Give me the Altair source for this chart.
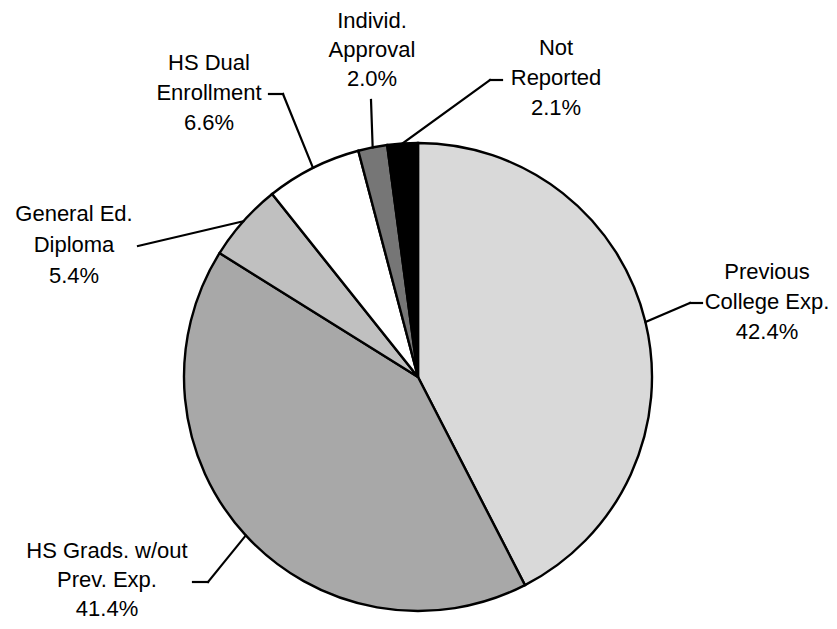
import math
import altair as alt
import pandas as pd

# ---- data ----
categories = [
    "Previous College Exp.",
    "HS Grads. w/out Prev. Exp.",
    "General Ed. Diploma",
    "HS Dual Enrollment",
    "Individ. Approval",
    "Not Reported",
]
values = [42.4, 41.4, 5.4, 6.6, 2.0, 2.1]
label_names = [
    ["Previous", "College Exp."],
    ["HS Grads. w/out", "Prev. Exp."],
    ["General Ed.", "Diploma"],
    ["HS Dual", "Enrollment"],
    ["Individ.", "Approval"],
    ["Not", "Reported"],
]

# ---- styles / layout (page pixels) ----
fill_colors = ["#d9d9d9", "#a8a8a8", "#c0c0c0", "#ffffff", "#767676", "#000000"]
OFF = 8
CX, CY, R = 418 - OFF, 377 - OFF, 234
label_first_line = [(767, 272), (107, 551), (74, 214), (209, 63), (372, 21), (556, 48)]
label_gap = [30, 29, 31, 30, 29, 30]
leader_elbows = [(690, 303), (208, 582), None, (283, 94), None, (490, 80)]
leader_ends = [(702, 303), (193, 582), (138, 246), (269, 94), (371, 100), (502, 80)]

pie_df = pd.DataFrame({"category": categories, "value": values, "order": list(range(len(values)))})

total = sum(values)
text_rows, seg_rows = [], []
cum = 0.0
for i, v in enumerate(values):
    a = (cum + v / 2) / total * 2 * math.pi
    cum += v
    ex, ey = CX + R * math.sin(a), CY - R * math.cos(a)
    lines = label_names[i] + [f"{v:.1f}%"]
    lx, ly = label_first_line[i]
    for k, t in enumerate(lines):
        text_rows.append({"t": t, "x": lx - OFF, "y": ly - OFF + k * label_gap[i]})
    pts = [(ex, ey)]
    if leader_elbows[i] is not None:
        pts.append((leader_elbows[i][0] - OFF, leader_elbows[i][1] - OFF))
    pts.append((leader_ends[i][0] - OFF, leader_ends[i][1] - OFF))
    for p, q in zip(pts[:-1], pts[1:]):
        seg_rows.append({"x": p[0], "y": p[1], "x2": q[0], "y2": q[1]})

pie = alt.Chart(pie_df).mark_arc(radius=R, stroke="black", strokeWidth=2.4).encode(
    theta=alt.Theta("value:Q", stack=True),
    order=alt.Order("order:Q"),
    color=alt.Color("category:N", scale=alt.Scale(domain=categories, range=fill_colors), legend=None),
    x=alt.value(CX),
    y=alt.value(CY),
)

leaders = alt.Chart(pd.DataFrame(seg_rows)).mark_rule(color="black", strokeWidth=2.2, strokeCap="square").encode(
    x=alt.X("x:Q", scale=None), y=alt.Y("y:Q", scale=None),
    x2="x2:Q", y2="y2:Q",
)

labels = alt.Chart(pd.DataFrame(text_rows)).mark_text(
    font="Liberation Sans", fontSize=22, align="center", baseline="middle", color="black"
).encode(
    x=alt.X("x:Q", scale=None), y=alt.Y("y:Q", scale=None), text="t:N"
)

chart = (
    alt.layer(pie, leaders, labels)
    .properties(width=821, height=613, autosize=alt.AutoSizeParams(type="none"), padding=0, background="white")
    .configure_view(stroke=None)
)
chart.save("out.html", embed_options={"renderer": "svg", "actions": False})
